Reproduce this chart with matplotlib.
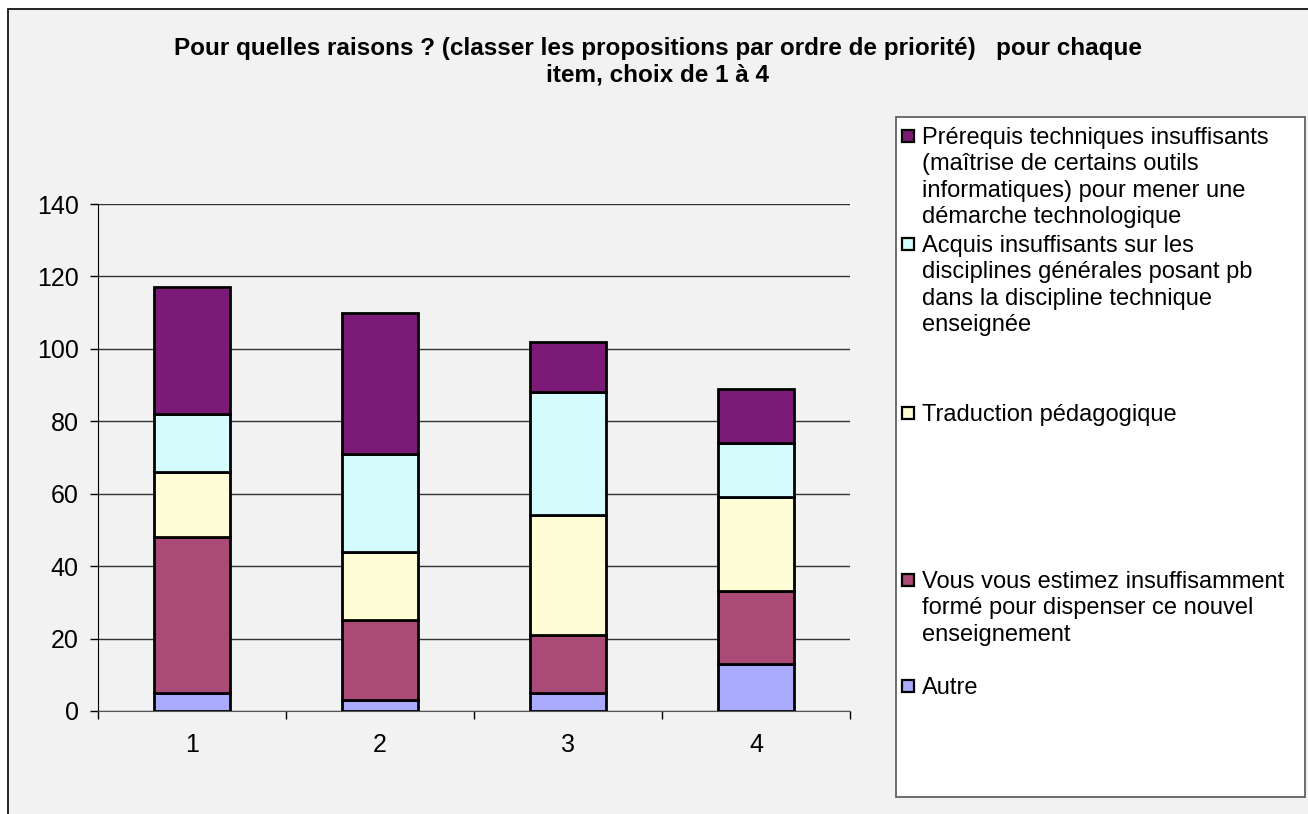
import matplotlib
matplotlib.use("Agg")
import matplotlib.pyplot as plt
from matplotlib.patches import Rectangle

plt.rcParams["font.family"] = ["Liberation Sans", "DejaVu Sans"]

# ── Données ──────────────────────────────────────────────────────────────
categories = ["1", "2", "3", "4"]
series_names = [
    "Autre",
    "Vous vous estimez insuffisamment\nformé pour dispenser ce nouvel\nenseignement",
    "Traduction pédagogique",
    "Acquis insuffisants sur les\ndisciplines générales posant pb\ndans la discipline technique\nenseignée",
    "Prérequis techniques insuffisants\n(maîtrise de certains outils\ninformatiques) pour mener une\ndémarche technologique",
]
autre = [5, 3, 5, 13]
vous = [43, 22, 16, 20]
traduction = [18, 19, 33, 26]
acquis = [16, 27, 34, 15]
prerequis = [35, 39, 14, 15]
colors = ["#AAAAFF", "#AA4A76", "#FFFDD6", "#D4FCFC", "#7B1A77"]
title = ("Pour quelles raisons ? (classer les propositions par ordre de priorité)   pour chaque\n"
         "item, choix de 1 à 4")

W, H = 1308, 814
fig = plt.figure(figsize=(W / 100, H / 100), dpi=100)
fig.patch.set_facecolor("white")

# cadre de la zone de graphique
fig.patches.append(Rectangle((8 / W, -0.05), 1.1, 1 - 9 / H + 0.05,
                             transform=fig.transFigure, facecolor="#F2F2F2",
                             edgecolor="black", lw=1.2, zorder=-10))

ax = fig.add_axes([98 / W, 1 - 711 / H, (850 - 98) / W, (711 - 204) / H])
ax.set_facecolor("none")
ax.set_zorder(5)

x = list(range(len(categories)))
bottom = [0] * len(categories)
for vals, c in zip([autre, vous, traduction, acquis, prerequis], colors):
    ax.bar(x, vals, width=0.4, bottom=bottom, color=c,
           edgecolor="black", linewidth=2.0, zorder=3)
    bottom = [b + v for b, v in zip(bottom, vals)]

ax.set_xlim(-0.5, len(categories) - 0.5)
ax.set_ylim(0, 140)
ax.set_yticks(range(0, 141, 20))
ax.yaxis.grid(True, color="#333333", lw=1.0, zorder=0)
ax.set_axisbelow(True)
ax.set_xticks(x)
ax.set_xticklabels(categories)
ax.set_xticks([i - 0.5 for i in range(len(categories) + 1)], minor=True)
ax.tick_params(axis="x", which="major", length=0, pad=16, labelsize=18)
ax.tick_params(axis="x", which="minor", length=6, direction="out", width=1)
ax.tick_params(axis="y", length=6, width=1, labelsize=18, pad=8)
for s in ["top", "right"]:
    ax.spines[s].set_visible(False)
ax.spines["left"].set_color("black")
ax.spines["bottom"].set_color("#555555")

fig.text(0.5 * (175 + 1140) / W, 1 - 62 / H, title, ha="center", va="center",
         fontsize=17.5, fontweight="bold", linespacing=1.2)

# ── Légende (dessinée à la main, entrées placées comme dans Excel) ───────
fig.patches.append(Rectangle((896 / W, 1 - 797 / H), (1305 - 896) / W,
                             (797 - 117) / H, transform=fig.transFigure,
                             facecolor="white", edgecolor="#555555", lw=1.2,
                             zorder=1))
entry_y = [136, 244, 413, 580, 686]
order = [4, 3, 2, 1, 0]
for yy, idx in zip(entry_y, order):
    fig.patches.append(Rectangle((902 / W, 1 - (yy + 6) / H), 12 / W, 12 / H,
                                 transform=fig.transFigure,
                                 facecolor=colors[idx], edgecolor="black",
                                 lw=1.6, zorder=2))
    fig.text(922 / W, 1 - (yy - 9) / H, series_names[idx], ha="left",
             va="top", fontsize=17, linespacing=1.26, zorder=3)

fig.savefig("out.png", dpi=100)
